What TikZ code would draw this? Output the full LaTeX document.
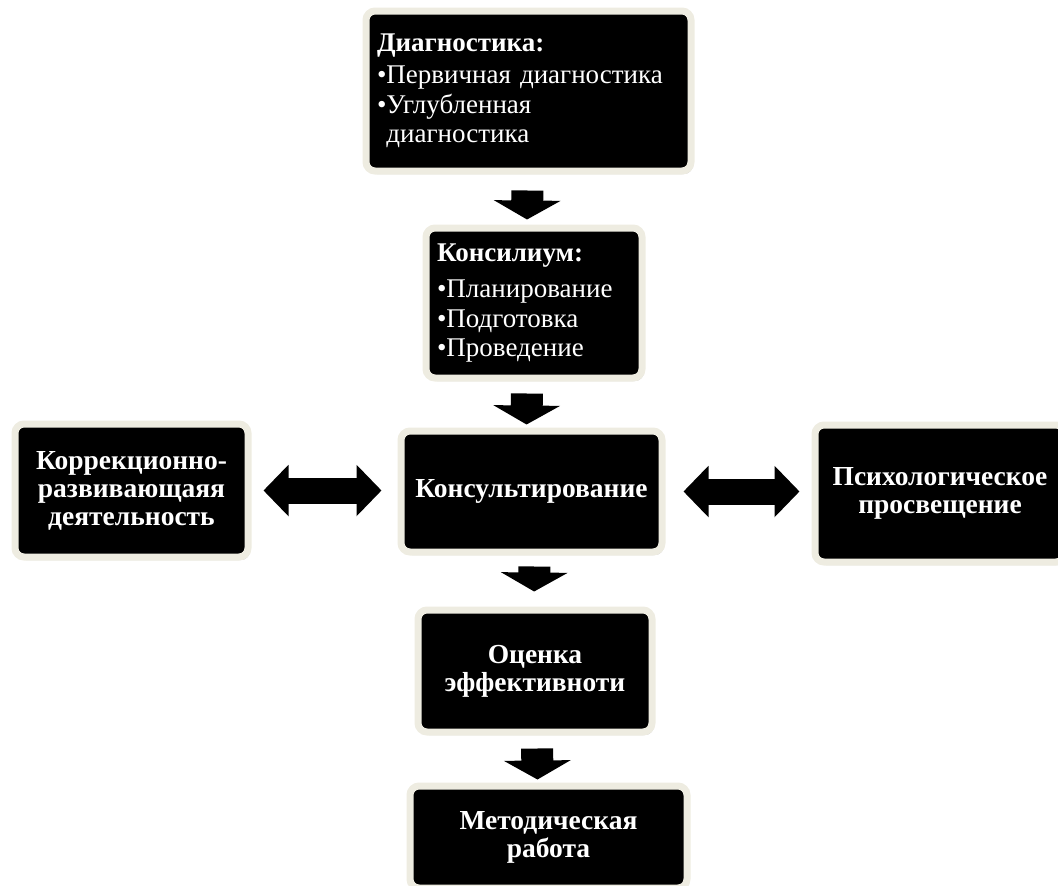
\documentclass[tikz,border=0pt]{standalone}
\usepackage{fontspec}
\setmainfont{Liberation Serif}
\usetikzlibrary{arrows.meta,shadows}
\definecolor{crema}{HTML}{EEECE1}
\tikzset{
    riquadro/.style={draw=crema, fill=black, line width=7pt, rounded corners=9pt,
        text=white, align=center, inner xsep=11pt,
        font=\bfseries\fontsize{27.5}{28}\selectfont,
        drop shadow={shadow xshift=2pt, shadow yshift=-3pt, opacity=0.35, fill=black!60}},
    elenco/.style={riquadro, align=left, font=\fontsize{27}{29.5}\selectfont},
    freccia/.style={line width=32pt, -{Triangle[width=66pt,length=19pt]}},
    doppia/.style={line width=26pt, {Triangle[width=50pt,length=25pt]}-{Triangle[width=50pt,length=25pt]}}
}
\begin{document}
\begin{tikzpicture}[x=1pt,y=-1pt]
                \useasboundingbox (0,0) rectangle (1058,886);
                %riquadri
                \node[elenco, minimum height=160pt, text width=303pt] (diag) at (528.5,91)
                    {{\bfseries Диагностика:}\\[3pt]
                     •Первичная диагностика\\
                     •Углубленная\\
                     \phantom{•}диагностика};
                \node[elenco, minimum height=150pt, text width=194pt] (consilio) at (534,303)
                    {{\bfseries Консилиум:}\\[7pt]
                     •Планирование\\
                     •Подготовка\\
                     •Проведение};
                \node[riquadro, minimum width=261pt, minimum height=121pt] (consulenza) at (531.5,491.5) {Консультирование};
                \node[riquadro, minimum width=233pt, minimum height=133pt] (correzione) at (131.5,490.5) {Коррекционно-\\развивающаяя\\деятельность};
                \node[riquadro, minimum width=250pt, minimum height=137pt] (educazione) at (940,493.5) {Психологическое\\просвещение};
                \node[riquadro, minimum width=234pt, minimum height=122pt] (valutazione) at (535,671) {Оценка\\эффективноти};
                \node[riquadro, minimum width=277pt, minimum height=102pt] (metodo) at (548.5,837) {Методическая\\работа};
                %frecce verso il basso
                \draw[freccia, shorten <=16pt, shorten >=5pt] ([xshift=-1pt]diag.south) -- ([xshift=-7pt]consilio.north);
                \draw[freccia, shorten <=12pt, shorten >=3pt] ([xshift=-7pt]consilio.south) -- ([xshift=-5pt]consulenza.north);
                \draw[freccia, shorten <=11pt, shorten >=15pt] ([xshift=3pt]consulenza.south) -- ([xshift=-1pt]valutazione.north);
                \draw[freccia, shorten <=13pt, shorten >=3pt] ([xshift=2pt]valutazione.south) -- ([xshift=-11pt]metodo.north);
                %frecce doppie
                \draw[doppia, shorten <=12pt, shorten >=16pt] (correzione.east) -- (consulenza.west |- correzione.east);
                \draw[doppia, shorten <=18pt, shorten >=12pt] (consulenza.east) -- (educazione.west |- consulenza.east);
            \end{tikzpicture}
\end{document}
